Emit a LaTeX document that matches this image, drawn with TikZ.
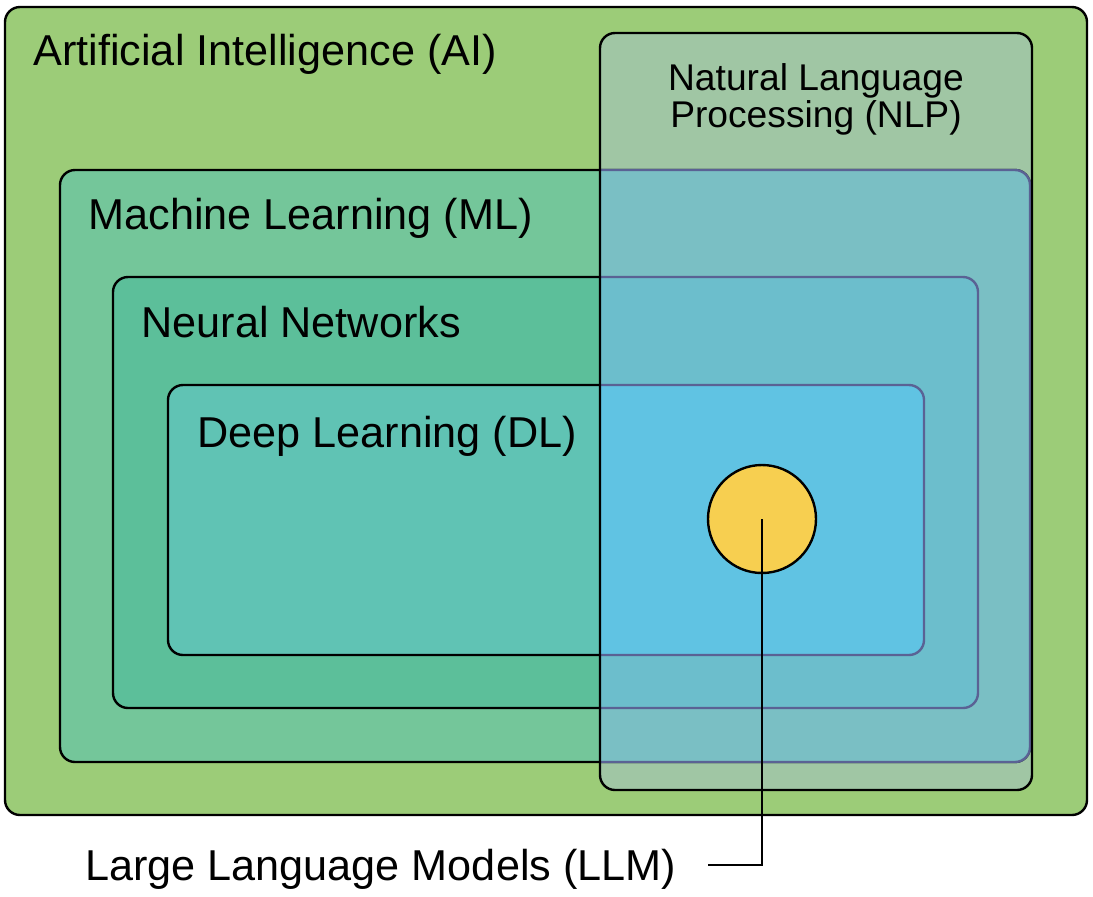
\documentclass[tikz,border=0pt]{standalone}
\usepackage{fontspec}
\setmainfont{Liberation Sans}
\usepackage{tikz}
\usetikzlibrary{positioning}
\definecolor{AIGreen}{RGB}{156,204,120}
\definecolor{NLPGrey}{RGB}{160,198,164}
\definecolor{MLGreen}{RGB}{116,198,154}
\definecolor{MLBlue}{RGB}{122,191,196}
\definecolor{NNGreen}{RGB}{92,191,154}
\definecolor{NNBlue}{RGB}{108,190,204}
\definecolor{DLGreen}{RGB}{96,195,180}
\definecolor{DLBlue}{RGB}{96,195,227}
\definecolor{LLMYellow}{RGB}{247,207,80}
\definecolor{EdgePurple}{RGB}{90,98,148}

\begin{document}
\begin{tikzpicture}[x=0.5pt, y=-0.5pt,
 region/.style = {draw, line width=1.2pt, rounded corners=7.5pt},
 inregion/.style = {draw=EdgePurple, line width=1.2pt, rounded corners=7.5pt},
 areatext/.style = {anchor=base west, inner sep=0pt, font=\fontsize{21.6}{26}\selectfont},
 nlptext/.style = {align=center, inner sep=0pt, font=\fontsize{18.6}{18.5}\selectfont},
 llmdot/.style = {draw, circle, line width=1.2pt, fill=LLMYellow, minimum size=54pt, inner sep=0pt},
]
\useasboundingbox (0,0) rectangle (1093,896);

% nested fields
\filldraw [region, fill=AIGreen] (5,7) rectangle (1087,815);
\fill [NLPGrey, rounded corners=7.5pt] (600,33) rectangle (1032,790);
\filldraw [region, fill=MLGreen] (60,170) rectangle (1030,762);
\filldraw [region, fill=NNGreen] (113,277) rectangle (978,708);
\filldraw [region, fill=DLGreen] (168,385) rectangle (924,655);

% the part under NLP
\begin{scope}
  \clip (600,33) rectangle (1032,790);
  \filldraw [inregion, fill=MLBlue] (60,170) rectangle (1030,762);
  \filldraw [inregion, fill=NNBlue] (113,277) rectangle (978,708);
  \filldraw [inregion, fill=DLBlue] (168,385) rectangle (924,655);
\end{scope}
\draw [region] (600,33) rectangle (1032,790);

\node [areatext] (aiTitle) at (33,65) {Artificial Intelligence (AI)};
\node [areatext] (mlTitle) at (88,229) {Machine Learning (ML)};
\node [areatext] (nnTitle) at (141,337) {Neural Networks};
\node [areatext] (dlTitle) at (197,447) {Deep Learning (DL)};
\node [nlptext] (nlpTitle) at (816,99) {Natural Language\\Processing (NLP)};

\node [llmdot] (llm) at (762,519) {};
\node [areatext] (llmTitle) at (85,880) {Large Language Models (LLM)};
\coordinate (llmEnd) at (708,865);
\draw [line width=1.2pt] (llm.center) |- (llmEnd);

\end{tikzpicture}
\end{document}
